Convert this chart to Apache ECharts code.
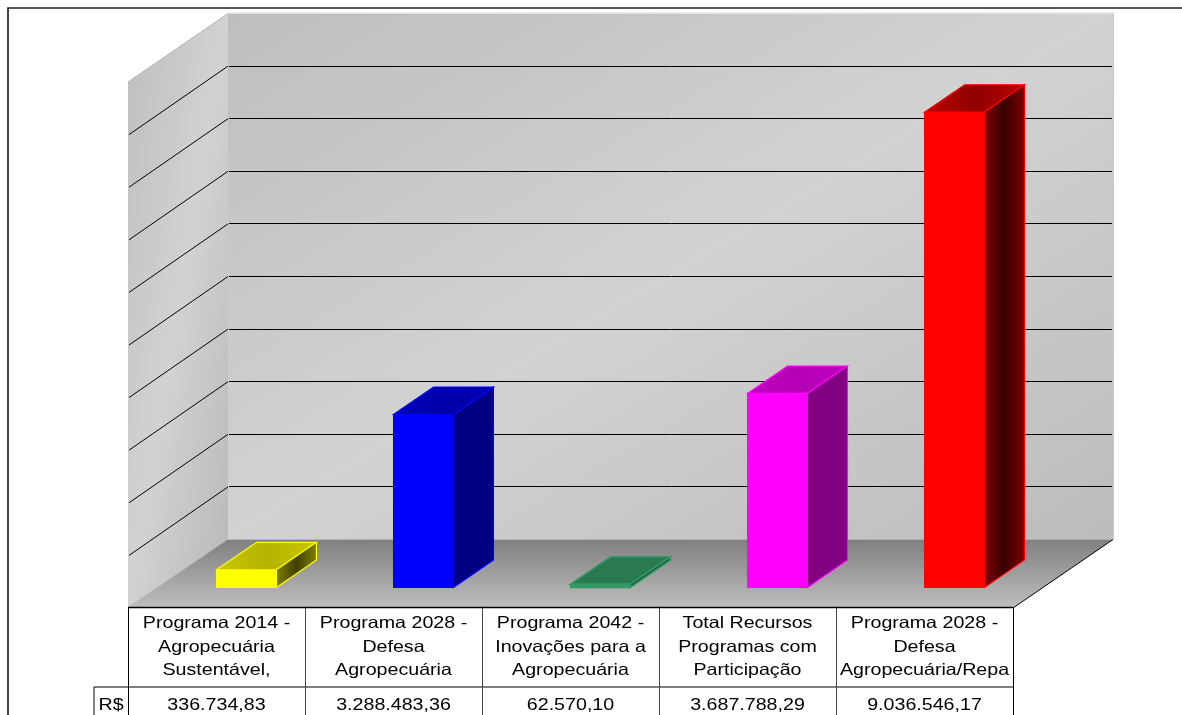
<!DOCTYPE html>
<html><head><meta charset="utf-8">
<style>html,body{margin:0;padding:0;background:#fff}#c{width:1182px;height:715px}</style>
<script src="https://cdn.jsdelivr.net/npm/echarts@6/dist/echarts.min.js"></script>
</head><body><div id="c"></div>
<script>
const categories = ['Programa 2014 -\nAgropecuária\nSustentável,','Programa 2028 -\nDefesa\nAgropecuária','Programa 2042 -\nInovações para a\nAgropecuária','Total Recursos\nProgramas com\nParticipação','Programa 2028 -\nDefesa\nAgropecuária/Repa'];
const values = [336734.83, 3288483.36, 62570.10, 3687788.29, 9036546.17];
const valueLabels = ['336.734,83','3.288.483,36','62.570,10','3.687.788,29','9.036.546,17'];
const rowLabel = 'R$';
const gridTicks = [1e6,2e6,3e6,4e6,5e6,6e6,7e6,8e6,9e6];
const axisMax = 1e7;
const DX = 100, DY = 68.5;
const barStyles = [
 {stroke:'#ffff00',front:'#ffff00',top:['#c8c800','#b4b400','#c8c800'],side:['#808000','#404000','#808000'],lw:1.2},
 {stroke:'#0000ff',front:'#0000ff',top:['#0000c0','#0000a8','#0000b0'],side:['#000080','#000080','#000080'],lw:1.2},
 {stroke:'#339966',front:'#339966',top:['#297a52','#297a52','#297a52'],side:['#1a4d33','#1a4d33','#1a4d33'],lw:1.6},
 {stroke:'#ff00ff',front:'#ff00ff',top:['#c000c0','#b400b4','#c000c0'],side:['#800080','#800080','#800080'],lw:1.2},
 {stroke:'#ff0000',front:'#ff0000',top:['#c00000','#900000','#b80000'],side:['#800000','#380000','#800000'],lw:1.2}
];
const FONT='Liberation Sans', FS=16.5, SX=1.19;
const grad=(c,x2,y2)=>({type:'linear',x:0,y:0,x2:x2,y2:y2,colorStops:c.map((k,i)=>({offset:i/(c.length-1),color:k}))});
const poly=(pts,fill,stroke,lw)=>({type:'polygon',shape:{points:pts},style:{fill:fill,stroke:stroke||null,lineWidth:lw||0}});
const line=(a,b,c,lw)=>({type:'line',shape:{x1:a[0],y1:a[1],x2:b[0],y2:b[1]},style:{stroke:c,lineWidth:lw||1}});
const txt=(t,x,y)=>({type:'text',x:x,y:y,scaleX:SX,style:{text:t,x:0,y:0,align:'center',verticalAlign:'middle',fontFamily:FONT,fontSize:FS,fill:'#000'}});

function renderWalls(p,api){
  const band=api.size([1,0])[0];
  const L=api.coord([0,0])[0]-band/2, R=api.coord([categories.length-1,0])[0]+band/2;
  const y0=Math.round(api.coord([0,0])[1]), yT=api.coord([0,axisMax])[1];
  const ch=[];
  ch.push(poly([[L+DX,yT-DY],[R+DX,yT-DY],[R+DX,y0-DY],[L+DX,y0-DY]],grad(['#bebebe','#d2d2d2','#bcbcbc'],0.52,1.47)));
  ch.push(poly([[L,yT],[L+DX,yT-DY],[L+DX,y0-DY],[L,y0]],grad(['#bebebe','#d2d2d2','#b8b8b8'],1.94,0.055)));
  ch.push(line([L+DX,yT-DY-0.5],[R+DX+1,yT-DY-0.5],'#dcdcdc',1));
  ch.push(line([R+DX+0.5,yT-DY],[R+DX+0.5,y0-DY],'#c8c8c8',1));
  ch.push(line([L,yT],[L+DX,yT-DY],'#b4b4b4',1));
  ch.push(line([L,y0],[L+DX,y0-DY],'#a8a8a8',1));
  ch.push(poly([[L+DX,y0-DY],[R+DX,y0-DY],[R,y0],[L,y0]],grad(['#808080','#bebebe'],0,1)));
  gridTicks.forEach(t=>{
    const y=api.coord([0,t])[1], yb=Math.floor(y-DY)+0.5;
    ch.push(line([L+DX+1,yb],[R+DX-1,yb],'#000',1));
    ch.push(line([L+1,y],[L+DX,y-DY],'#000',1));
  });
  ch.push(line([R,y0],[R+DX,y0-DY],'#000',1));
  return {type:'group',children:ch};
}
function renderBar(p,api){
  const i=api.value(0), v=api.value(1), s=barStyles[i];
  const band=api.size([1,0])[0], w=band*0.338;
  const base=api.coord([i,0]), top=api.coord([i,v]);
  const ox=DX*0.3, oy=-DY*0.3, bx=DX*0.4, by=-DY*0.4;
  const x0=base[0]+ox-w/2, x1=x0+w, yb=base[1]+oy, yt=top[1]+oy;
  return {type:'group',children:[
    poly([[x0,yb],[x1,yb],[x1,yt],[x0,yt]],s.front,s.stroke,s.lw),
    poly([[x0,yt],[x1,yt],[x1+bx,yt+by],[x0+bx,yt+by]],grad(s.top,1,0),s.stroke,s.lw),
    poly([[x1,yb],[x1+bx,yb+by],[x1+bx,yt+by],[x1,yt]],grad(s.side,1,0),s.stroke,s.lw)
  ]};
}
function renderTable(p,api){
  const band=api.size([1,0])[0];
  const c0=api.coord([0,0]);
  const L=c0[0]-band/2, n=categories.length;
  const y0=Math.round(c0[1])-0.5, y1=y0+79.5, y2=y0+130;
  const ch=[];
  ch.push(line([L,y0],[L+band*n,y0],'#000',1.5));
  ch.push(line([L-34,y1],[L+band*n,y1],'#000',1));
  ch.push(line([L-34,y1],[L-34,y2],'#000',1));
  for(let k=0;k<=n;k++){
    const x=Math.round(L+band*k)+0.5;
    ch.push(line([x,y0],[x,y2],(k==0||k==n)?'#000':'#444',1));
  }
  categories.forEach((c,i)=>{
    const cx=api.coord([i,0])[0];
    c.split('\n').forEach((s,j)=>ch.push(txt(s,cx,y0+16+j*23.5)));
    ch.push(txt(valueLabels[i],cx,y1+18));
  });
  ch.push(txt(rowLabel,L-17,y1+18));
  return {type:'group',children:ch};
}
const chart=echarts.init(document.getElementById('c'),null,{renderer:'canvas'});
chart.setOption({
  animation:false,backgroundColor:'#fff',
  grid:{left:128,width:885,top:82,height:526},
  xAxis:{type:'category',data:categories,axisLine:{show:false},axisTick:{show:false},axisLabel:{show:false}},
  yAxis:{type:'value',min:0,max:axisMax,interval:1e6,show:false,splitLine:{show:false}},
  graphic:[{type:'rect',shape:{x:8,y:8,width:1400,height:900},style:{fill:null,stroke:'#222',lineWidth:1.7},z:100,silent:true}],
  series:[
   {type:'custom',name:'walls',data:[[0,0]],renderItem:renderWalls,z:1,silent:true,clip:false},
   {type:'custom',name:'R$',data:values.map((v,i)=>[i,v]),renderItem:renderBar,encode:{x:0,y:1},z:3,silent:true,clip:false},
   {type:'custom',name:'table',data:[[0,0]],renderItem:renderTable,z:2,silent:true,clip:false}
  ]
});
</script></body></html>
